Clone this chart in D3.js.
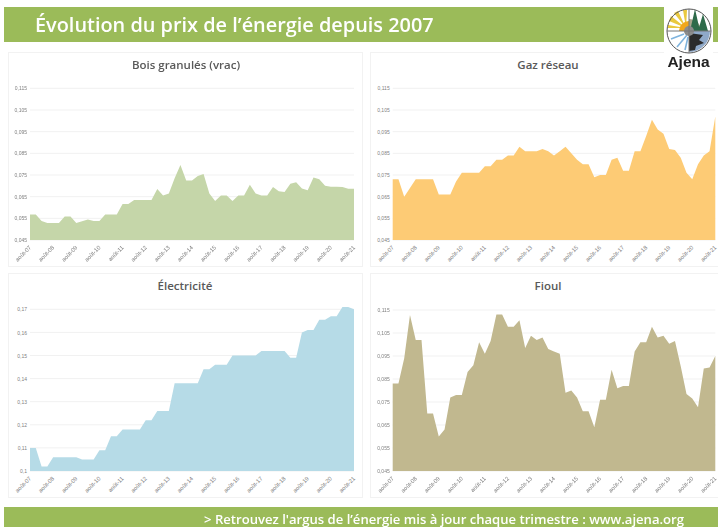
<!DOCTYPE html>
<html>
<head>
<meta charset="utf-8">
<title>Évolution du prix de l'énergie depuis 2007</title>
<script src="https://d3js.org/d3.v7.min.js"></script>
<style>
    html, body { margin: 0; padding: 0; background: #fff; overflow: hidden; }
    svg { display: block; font-family: "Open Sans", sans-serif; filter: blur(0.35px); }
    .tick text { fill: #7f7f7f; font-size: 5px; }
    .x-axis .tick text { font-size: 5.8px; }
    .domain { display: none; }
    .tick line { display: none; }
    .grid-line { stroke: #f1f1f1; stroke-width: 1; }
</style>
</head>
<body>
<script>
    // one label per year, the data itself is quarterly (57 points)
    var yearLabels = ["août-07", "août-08", "août-09", "août-10", "août-11", "août-12", "août-13",
        "août-14", "août-15", "août-16", "août-17", "août-18", "août-19", "août-20", "août-21"];

    var priceTicks = [0.045, 0.055, 0.065, 0.075, 0.085, 0.095, 0.105, 0.115];
    var elecTicks = [0.10, 0.11, 0.12, 0.13, 0.14, 0.15, 0.16, 0.17];

    var bois = [.0568, .0568, .0538, .0528, .0528, .0528, .0558, .0558, .0528, .0536, .0545, .0538, .0538, .0568, .0568,
        .0568, .0616, .0616, .0635, .0635, .0635, .0635, .0685, .0655, .0665, .0735, .0796, .0725, .0725, .0745,
        .0755, .0665, .063, .0655, .0655, .063, .0655, .0655, .0705, .0665, .0655, .0655, .0695, .0675, .0672,
        .071, .0716, .0688, .068, .0738, .073, .07, .0696, .0696, .0695, .0687, .0687];

    var gaz = [.073, .073, .065, .069, .073, .073, .073, .073, .066, .066, .066, .072, .076, .076, .076,
        .076, .079, .079, .082, .082, .084, .084, .088, .086, .086, .086, .087, .086, .084, .086,
        .088, .085, .082, .08, .08, .074, .075, .075, .082, .083, .077, .077, .086, .086, .093,
        .1005, .096, .094, .087, .0865, .083, .076, .073, .08, .084, .086, .102];

    var electricite = [.11, .11, .102, .102, .106, .106, .106, .106, .106, .105, .105, .105, .109, .109, .115,
        .115, .118, .118, .118, .118, .122, .122, .126, .126, .126, .138, .138, .138, .138, .138,
        .144, .144, .146, .146, .146, .15, .15, .15, .15, .15, .152, .152, .152, .152, .152,
        .149, .149, .16, .161, .161, .1655, .1655, .167, .167, .171, .171, .17];

    var fioul = [.083, .083, .094, .1128, .102, .102, .07, .07, .06, .063, .077, .078, .078, .088, .091,
        .101, .096, .1015, .113, .113, .1077, .1077, .1105, .0985, .1038, .102, .103, .098, .097, .096,
        .079, .08, .077, .071, .071, .064, .076, .076, .089, .081, .082, .082, .097, .101, .101,
        .1077, .103, .1038, .1003, .1015, .0905, .0785, .0765, .0727, .0896, .09, .095];

    var svg = d3.select("body").append("svg")
        .attr("width", 718)
        .attr("height", 527);

    // header and footer bands
    svg.append("rect").attr("x", 4).attr("y", 7).attr("width", 714).attr("height", 35).attr("fill", "#9bbb59");
    svg.append("rect").attr("x", 4).attr("y", 507).attr("width", 714).attr("height", 20).attr("fill", "#9bbb59");

    svg.append("text")
        .attr("x", 35).attr("y", 32)
        .attr("fill", "#fff")
        .attr("font-size", 19.9)
        .attr("font-weight", 600)
        .text("Évolution du prix de l’énergie depuis 2007");

    svg.append("text")
        .attr("x", 684).attr("y", 523.5)
        .attr("text-anchor", "end")
        .attr("fill", "#fff")
        .attr("font-size", 13.1)
        .attr("font-weight", 600)
        .text("> Retrouvez l'argus de l’énergie mis à jour chaque trimestre : www.ajena.org");

    function areaPanel(title, values, ticks, fill, box, plot) {
        var g = svg.append("g");

        g.append("rect")
            .attr("x", box.x + 0.5).attr("y", box.y + 0.5)
            .attr("width", box.w).attr("height", box.h)
            .attr("fill", "#fff").attr("stroke", "#f2f2f2");

        var x = d3.scaleLinear().domain([0, values.length - 1]).range([plot.left, plot.right]);
        var y = d3.scaleLinear().domain([ticks[0], ticks[ticks.length - 1]]).range([plot.bottom, plot.top]);

        g.append("text")
            .attr("x", box.x + box.titleX).attr("y", box.y + 17)
            .attr("text-anchor", "middle")
            .attr("fill", "#595959")
            .attr("font-size", 11.5)
            .attr("font-weight", 600)
            .text(title);

        // gridlines sit behind the area
        g.selectAll("line.grid-line").data(ticks).enter().append("line")
            .attr("class", "grid-line")
            .attr("x1", plot.left).attr("x2", plot.right)
            .attr("y1", function (d) { return y(d); })
            .attr("y2", function (d) { return y(d); });

        var area = d3.area()
            .x(function (d, i) { return x(i); })
            .y0(plot.bottom)
            .y1(function (d) { return y(d); });

        g.append("path").attr("d", area(values)).attr("fill", fill);

        var yAxis = d3.axisLeft(y)
            .tickValues(ticks)
            .tickSize(0)
            .tickPadding(3)
            .tickFormat(function (d) { return String(+d.toFixed(3)).replace(".", ","); });
        g.append("g").attr("transform", "translate(" + plot.left + ",0)").call(yAxis);

        var xAxis = d3.axisBottom(x)
            .tickValues(d3.range(0, values.length, 4))
            .tickSize(0)
            .tickFormat(function (d) { return yearLabels[d / 4]; });
        g.append("g").attr("class", "x-axis").attr("transform", "translate(0," + plot.bottom + ")").call(xAxis)
            .selectAll("text")
            .attr("text-anchor", "end")
            .attr("dx", 0).attr("dy", 0)
            .attr("y", 0)
            .attr("transform", "translate(1,8) rotate(-45)");
    }

    var leftPlot = {left: 30, right: 354}, rightPlot = {left: 392.7, right: 715.3};

    areaPanel("Bois granulés (vrac)", bois, priceTicks, "#c5d6a9",
        {x: 8, y: 52, w: 354, h: 214, titleX: 178},
        {left: leftPlot.left, right: leftPlot.right, top: 88.3, bottom: 240});
    areaPanel("Gaz réseau", gaz, priceTicks, "#fdcb75",
        {x: 370, y: 52, w: 350, h: 214, titleX: 178},
        {left: rightPlot.left, right: rightPlot.right, top: 88.3, bottom: 240});
    areaPanel("Électricité", electricite, elecTicks, "#b6dbe7",
        {x: 8, y: 273, w: 354, h: 224, titleX: 177},
        {left: leftPlot.left, right: leftPlot.right, top: 309.3, bottom: 471});
    areaPanel("Fioul", fioul, priceTicks, "#c1b88f",
        {x: 370, y: 273, w: 350, h: 224, titleX: 178},
        {left: rightPlot.left, right: rightPlot.right, top: 310, bottom: 471});

    // logo box, drawn last so it overlaps the header and the gaz panel
    var logo = svg.append("g");
    logo.append("rect").attr("x", 664).attr("y", 7).attr("width", 49).attr("height", 46).attr("fill", "#fff");
    var mark = logo.append("g").attr("transform", "translate(689,31)");
    var arc = d3.arc();
    // sun quadrant: rays on white
    mark.append("path").attr("d", "M-3,-3 L-20,-10 L-18,-15 Z M-3,-3 L-15,-18 L-11,-20 Z M-3,-3 L-6,-21 L-2,-21 Z M-3,-3 L-21,-3 L-21,-6 Z").attr("fill", "#e9c93f");
    mark.append("path").attr("d", arc({innerRadius: 0, outerRadius: 10, startAngle: -Math.PI / 2, endAngle: 0})).attr("fill", "#f2a71b");
    // forest quadrant
    mark.append("path").attr("d", arc({innerRadius: 0, outerRadius: 12, startAngle: 0, endAngle: Math.PI / 2})).attr("fill", "#a9a58c");
    mark.append("path").attr("d", "M1,0 L6,-22 L11,0 Z M9,0 L14,-17 L19,0 Z").attr("fill", "#2e6b4a");
    // water and dark blades quadrant
    mark.append("path").attr("d", arc({innerRadius: 0, outerRadius: 21, startAngle: Math.PI / 2, endAngle: Math.PI})).attr("fill", "#8fa9c9");
    mark.append("path").attr("d", "M0,2 L14,4 L10,9 L15,12 L7,15 L6,19 L0,20 Z").attr("fill", "#2b2b2b");
    // wind quadrant
    mark.append("path").attr("d", "M-2,4 L-12,16 M-5,3 L-18,8 M-1,6 L-4,19").attr("stroke", "#7fb4de").attr("stroke-width", 1.6);
    mark.append("circle").attr("r", 5).attr("fill", "#8c8c8c");
    mark.append("circle").attr("r", 22).attr("fill", "none").attr("stroke", "#555").attr("stroke-width", 1);
    mark.append("path").attr("d", "M-22,0 H22 M0,-22 V22").attr("stroke", "#777").attr("stroke-width", 1);

    svg.append("text")
        .attr("x", 688.5).attr("y", 67)
        .attr("text-anchor", "middle")
        .attr("fill", "#222")
        .attr("font-family", "Liberation Sans")
        .attr("font-size", 15.5)
        .attr("font-weight", 600)
        .text("Ajena");
</script>
</body>
</html>
